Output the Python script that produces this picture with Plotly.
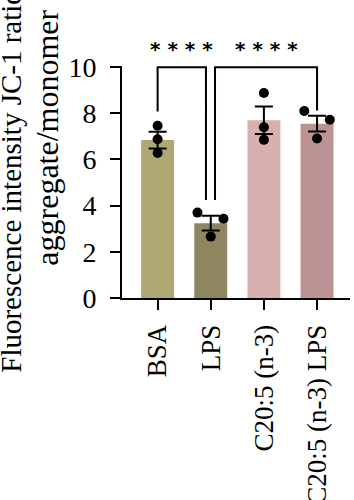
import plotly.graph_objects as go

categories = ["BSA", "LPS", "C20:5 (n-3)", "C20:5 (n-3) LPS"]
means = [6.84, 3.24, 7.70, 7.55]
sems = [0.36, 0.32, 0.60, 0.34]
points = [
    [7.46, 6.88, 6.28],
    [3.70, 3.43, 2.66],
    [8.88, 7.40, 6.85],
    [8.10, 7.72, 6.91],
]
jitter = [
    [0.0, 0.0, 0.0],
    [-0.25, 0.24, 0.0],
    [0.0, 0.0, 0.0],
    [-0.24, 0.24, 0.0],
]
colors = ["#B0A872", "#8E8660", "#D8B0B0", "#BC9292"]

# significance comparisons: (left index, right index, left-leg bottom, right-leg bottom, label)
comparisons = [
    (0, 1, 8.08, 4.25, "* * * *"),
    (1, 3, 4.25, 8.12, "* * * *"),
]
leg_offsets = [(0.0, -0.09), (0.08, 0.0)]
bracket_level = 10.0
y_max = 10.05

FONT = "Liberation Serif"
xs = list(range(len(categories)))

fig = go.Figure()
fig.add_trace(go.Bar(
    x=xs, y=means, width=0.62,
    marker=dict(color=colors, line=dict(width=0)),
    error_y=dict(type="data", array=sems, visible=True, color="black",
                 thickness=2, width=9),
    showlegend=False,
))

px_, py_ = [], []
for i, pts in enumerate(points):
    for j, v in enumerate(pts):
        px_.append(xs[i] + jitter[i][j])
        py_.append(v)
fig.add_trace(go.Scatter(
    x=px_, y=py_, mode="markers",
    marker=dict(color="black", size=10),
    showlegend=False, cliponaxis=False,
))

for (a, b, ya, yb, lab), (oa, ob) in zip(comparisons, leg_offsets):
    xa = xs[a] + oa
    xb = xs[b] + ob
    fig.add_trace(go.Scatter(
        x=[xa, xa, xb, xb], y=[ya, bracket_level, bracket_level, yb],
        mode="lines", line=dict(color="black", width=2),
        showlegend=False, hoverinfo="skip",
    ))
    fig.add_annotation(
        x=(xa + xb) / 2, y=10.77 / y_max, xref="x", yref="paper",
        text="<b>" + lab + "</b>", showarrow=False, yanchor="middle",
        font=dict(family="DejaVu Sans", size=20, color="black"),
    )

fig.add_annotation(
    x=-0.485, y=0.503, xref="paper", yref="paper",
    text="Fluorescence intensity JC-1 ratio", textangle=-90,
    showarrow=False, xanchor="center", yanchor="middle",
    font=dict(family=FONT, size=29, color="black"),
)
fig.add_annotation(
    x=-0.33, y=0.69, xref="paper", yref="paper",
    text="aggregate/monomer", textangle=-90,
    showarrow=False, xanchor="center", yanchor="middle",
    font=dict(family=FONT, size=32, color="black"),
)

fig.update_layout(
    width=354, height=500,
    margin=dict(l=122, r=4, t=66, b=202),
    paper_bgcolor="white", plot_bgcolor="white",
    font=dict(family=FONT, color="black"),
    xaxis=dict(
        range=[-0.67, 3.62], tickvals=xs, ticktext=categories,
        tickangle=-90, showline=True, linewidth=2, linecolor="black",
        ticks="outside", ticklen=10, tickwidth=2, tickcolor="black",
        showgrid=False, zeroline=False, ticklabelstandoff=4,
        automargin=False,
        tickfont=dict(family=FONT, size=27, color="black"),
    ),
    yaxis=dict(
        range=[0, y_max], tickvals=[0, 2, 4, 6, 8, 10],
        showline=True, linewidth=2, linecolor="black",
        ticks="outside", ticklen=10, tickwidth=2, tickcolor="black",
        showgrid=False, zeroline=False, ticklabelstandoff=8,
        automargin=False,
        tickfont=dict(family=FONT, size=28, color="black"),
    ),
)

fig.write_html("out.html")
